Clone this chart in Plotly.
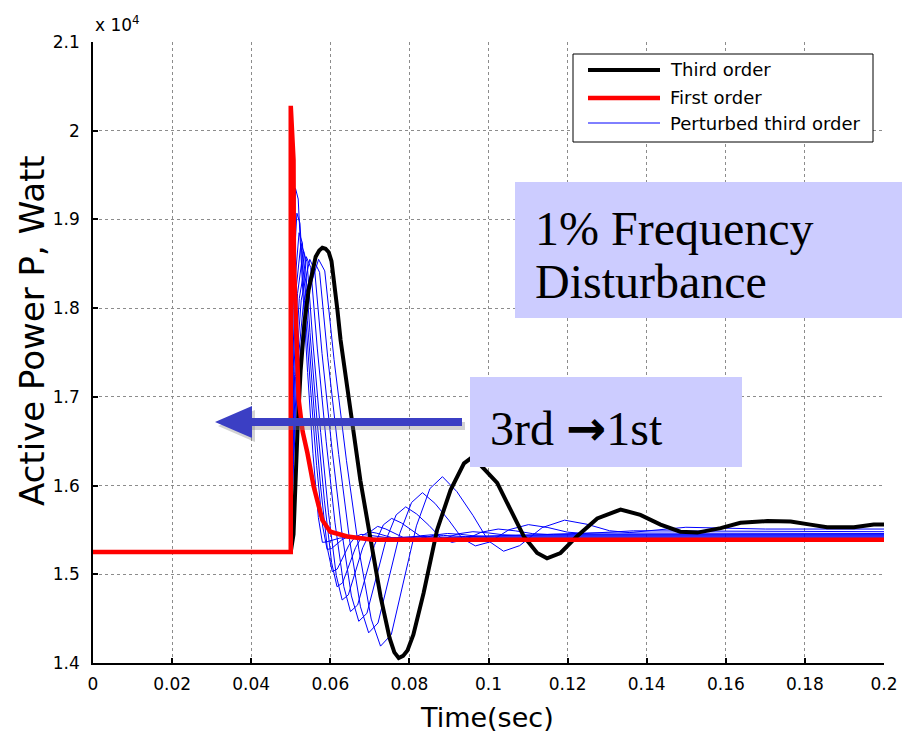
import plotly.graph_objects as go

# Step response of active power after a 1 % frequency disturbance.
# Time in seconds, power in units of 10^4 W (axis exponent shown separately).

third_t = [0, 0.05, 0.0507, 0.0512, 0.0517, 0.0525, 0.0535, 0.0545, 0.0555, 0.0563, 0.0572,
           0.0580, 0.0588, 0.0596, 0.0603, 0.0610, 0.0618, 0.0626, 0.0640, 0.0655, 0.0676,
           0.0702, 0.0727, 0.0750, 0.0762, 0.0773, 0.0784, 0.0795, 0.0810,
           0.0836, 0.0870, 0.0904, 0.0938, 0.0962, 0.0984, 0.1022, 0.1056, 0.1089, 0.1123,
           0.1148, 0.1182, 0.1224, 0.1275, 0.1334, 0.1384, 0.1435, 0.1485, 0.1528, 0.1587,
           0.1637, 0.1705, 0.1764, 0.1814, 0.1856, 0.1924, 0.1974, 0.2]
third_p = [1.525, 1.525, 1.545, 1.618, 1.661, 1.730, 1.785, 1.820, 1.843, 1.858, 1.865,
           1.868, 1.867, 1.863, 1.853, 1.829, 1.798, 1.764, 1.718, 1.674, 1.606,
           1.539, 1.475, 1.428, 1.412, 1.4056, 1.408, 1.414, 1.432,
           1.479, 1.550, 1.595, 1.625, 1.633, 1.621, 1.603, 1.573, 1.543, 1.524,
           1.518, 1.524, 1.543, 1.563, 1.573, 1.567, 1.556, 1.548, 1.547, 1.552,
           1.558, 1.560, 1.5595, 1.556, 1.553, 1.553, 1.556, 1.556]

first_t = [0, 0.05, 0.05, 0.0504, 0.0507, 0.0508, 0.0512, 0.0520, 0.0530, 0.0542, 0.0558,
           0.0580, 0.0600, 0.0643, 0.0707, 0.2]
first_p = [1.525, 1.525, 2.028, 1.990, 1.967, 1.854, 1.809, 1.697, 1.661, 1.637, 1.599,
           1.561, 1.548, 1.5426, 1.539, 1.539]

# perturbed third-order responses, fastest (k0) to slowest (k8)
k0_t = [0, 0.05, 0.05012, 0.0503, 0.05066, 0.0512, 0.05188, 0.0529, 0.05426, 0.05562, 0.05698,
        0.058, 0.05896, 0.06, 0.0612, 0.0624, 0.06352, 0.0648, 0.06624, 0.0676, 0.06896, 0.08, 0.2]
k0_p = [1.525, 1.525, 1.648, 1.771, 1.8776, 1.935, 1.923, 1.8313, 1.7275, 1.6358, 1.5639,
        1.536, 1.5364, 1.5379, 1.5397, 1.5408, 1.5412, 1.541, 1.5406, 1.5402, 1.54, 1.54, 1.54]

k1_t = [0, 0.05, 0.05016, 0.05039, 0.05086, 0.05156, 0.05233, 0.05347, 0.055, 0.05653, 0.05805,
        0.0592, 0.0603, 0.0615, 0.06288, 0.06426, 0.06555, 0.06702, 0.06868, 0.07024, 0.0718,
        0.07346, 0.07576, 0.07806, 0.08036, 0.08266, 0.08468, 0.09048, 0.2]
k1_p = [1.525, 1.525, 1.6396, 1.7542, 1.8535, 1.907, 1.8956, 1.8085, 1.7099, 1.6228, 1.5545,
        1.528, 1.529, 1.5334, 1.5387, 1.542, 1.543, 1.5425, 1.5417, 1.5409, 1.5405,
        1.5406, 1.5411, 1.5413, 1.5412, 1.541, 1.541, 1.541, 1.541]

k2_t = [0, 0.05, 0.05021, 0.05053, 0.05116, 0.0521, 0.05294, 0.0542, 0.05588, 0.05756, 0.05924,
        0.0605, 0.06176, 0.06313, 0.0647, 0.06628, 0.06775, 0.06943, 0.07132, 0.0731, 0.07489,
        0.07678, 0.0794, 0.08203, 0.08465, 0.08728, 0.08959, 0.0962, 0.2]
k2_p = [1.525, 1.525, 1.633, 1.741, 1.8346, 1.885, 1.8735, 1.7857, 1.6864, 1.5985, 1.5297,
        1.503, 1.5059, 1.5181, 1.5328, 1.5421, 1.545, 1.5442, 1.5429, 1.5416, 1.541,
        1.5413, 1.5424, 1.5428, 1.5425, 1.542, 1.5418, 1.542, 1.542]

k3_t = [0, 0.05, 0.05026, 0.05064, 0.05142, 0.05257, 0.05349, 0.05486, 0.05668, 0.05851, 0.06033,
        0.0617, 0.0631, 0.06463, 0.06638, 0.06814, 0.06977, 0.07165, 0.07375, 0.07574, 0.07773,
        0.07984, 0.08276, 0.08569, 0.08861, 0.09154, 0.09411, 0.10148, 0.2]
k3_p = [1.525, 1.525, 1.6294, 1.7338, 1.8243, 1.873, 1.8614, 1.7724, 1.6718, 1.5828, 1.5131,
        1.486, 1.4903, 1.5083, 1.53, 1.5437, 1.548, 1.5464, 1.5438, 1.5411, 1.54,
        1.5408, 1.5434, 1.5445, 1.5438, 1.5428, 1.5425, 1.543, 1.543]

k4_t = [0, 0.05, 0.05031, 0.05078, 0.05172, 0.05312, 0.05411, 0.05559, 0.05757, 0.05954, 0.06152,
        0.063, 0.06456, 0.06625, 0.0682, 0.07015, 0.07197, 0.07405, 0.07639, 0.0786, 0.08081,
        0.08315, 0.0864, 0.08965, 0.0929, 0.09615, 0.09901, 0.1072, 0.2]
k4_p = [1.525, 1.525, 1.6267, 1.7284, 1.8165, 1.864, 1.8522, 1.7618, 1.6596, 1.5693, 1.4985,
        1.471, 1.4768, 1.5009, 1.5299, 1.5482, 1.554, 1.551, 1.5462, 1.5411, 1.539,
        1.5403, 1.5443, 1.546, 1.545, 1.5434, 1.543, 1.544, 1.544]

k5_t = [0, 0.05, 0.05039, 0.05098, 0.05216, 0.05393, 0.05504, 0.05672, 0.05895, 0.06119, 0.06342,
        0.0651, 0.06691, 0.06888, 0.07114, 0.07341, 0.07552, 0.07794, 0.08065, 0.08322, 0.08579,
        0.08851, 0.09228, 0.09606, 0.09983, 0.10361, 0.10693, 0.11644, 0.2]
k5_p = [1.525, 1.525, 1.625, 1.725, 1.811, 1.858, 1.846, 1.754, 1.65, 1.558, 1.486,
        1.458, 1.4654, 1.4958, 1.5326, 1.5557, 1.563, 1.558, 1.55, 1.5415, 1.538,
        1.5398, 1.5456, 1.548, 1.5467, 1.5446, 1.544, 1.545, 1.545]

k6_t = [0, 0.05, 0.05048, 0.0512, 0.05265, 0.05482, 0.05605, 0.05791, 0.06039, 0.06287, 0.06534,
        0.0672, 0.06926, 0.0715, 0.07408, 0.07666, 0.07907, 0.08182, 0.08492, 0.08784, 0.09076,
        0.09386, 0.09816, 0.10246, 0.10676, 0.11106, 0.11484, 0.12568, 0.2]
k6_p = [1.525, 1.525, 1.624, 1.723, 1.809, 1.855, 1.8428, 1.7489, 1.6428, 1.549, 1.4756,
        1.447, 1.456, 1.4934, 1.5386, 1.567, 1.576, 1.568, 1.5552, 1.5416, 1.536,
        1.5387, 1.5474, 1.551, 1.549, 1.5459, 1.545, 1.5465, 1.546]

k7_t = [0, 0.05, 0.05059, 0.05148, 0.05325, 0.05591, 0.05729, 0.05936, 0.06212, 0.06487, 0.06763,
        0.0697, 0.07206, 0.07463, 0.07758, 0.08054, 0.08329, 0.08645, 0.08999, 0.09334, 0.09669,
        0.10024, 0.10516, 0.11009, 0.11501, 0.11994, 0.12427, 0.13668, 0.2]
k7_p = [1.525, 1.525, 1.623, 1.722, 1.807, 1.853, 1.8404, 1.744, 1.6351, 1.5388, 1.4633,
        1.434, 1.4451, 1.4909, 1.5462, 1.5809, 1.592, 1.58, 1.5608, 1.5404, 1.532,
        1.5363, 1.5502, 1.556, 1.5527, 1.5475, 1.546, 1.549, 1.548]

k8_t = [0, 0.05, 0.0507, 0.05176, 0.05387, 0.05704, 0.0586, 0.06095, 0.06409, 0.06722, 0.07035,
        0.0727, 0.07542, 0.07838, 0.08178, 0.08519, 0.08836, 0.092, 0.09608, 0.09994, 0.1038,
        0.10789, 0.11356, 0.11924, 0.12491, 0.13059, 0.13558, 0.1499, 0.17, 0.2]
k8_p = [1.525, 1.525, 1.624, 1.723, 1.809, 1.855, 1.842, 1.742, 1.628, 1.528, 1.4495,
        1.419, 1.432, 1.4878, 1.5546, 1.5966, 1.61, 1.5932, 1.5663, 1.5378, 1.526,
        1.5323, 1.5526, 1.561, 1.5564, 1.5491, 1.547, 1.553, 1.551, 1.551]

x_ticks = [0, 0.02, 0.04, 0.06, 0.08, 0.1, 0.12, 0.14, 0.16, 0.18, 0.2]
x_tick_text = ["0", "0.02", "0.04", "0.06", "0.08", "0.1", "0.12", "0.14", "0.16", "0.18", "0.2"]
y_ticks = [1.4, 1.5, 1.6, 1.7, 1.8, 1.9, 2.0, 2.1]
y_tick_text = ["1.4", "1.5", "1.6", "1.7", "1.8", "1.9", "2", "2.1"]

legend_labels = ["Third order", "First order", "Perturbed third order"]

SANS = "DejaVu Sans"
SERIF = "Liberation Serif"
BLUE = "#0000ff"
ARROW = "#3b3fc4"
PANEL = "#ccccff"

fig = go.Figure()

perturbed = [(k0_t, k0_p), (k1_t, k1_p), (k2_t, k2_p), (k3_t, k3_p), (k4_t, k4_p),
             (k5_t, k5_p), (k6_t, k6_p), (k7_t, k7_p), (k8_t, k8_p)]
for t, p in perturbed:
    fig.add_trace(go.Scatter(x=t, y=p, mode="lines", line=dict(color=BLUE, width=1),
                             showlegend=False, hoverinfo="skip"))

fig.add_trace(go.Scatter(x=third_t, y=third_p, mode="lines",
                         line=dict(color="black", width=4), showlegend=False))
fig.add_trace(go.Scatter(x=first_t, y=first_p, mode="lines",
                         line=dict(color="#ff0000", width=4.5), showlegend=False))

# plot area: 93..884 px horizontally, 42..663 px vertically
L, R, T, B = 93, 25, 42, 71
W, H = 909 - L - R, 734 - T - B


def px(x):
    return (x - L) / W


def py(y):
    return (734 - B - y) / H


shapes = []

# hand-drawn legend
shapes.append(dict(type="rect", xref="paper", yref="paper",
                   x0=px(573), x1=px(873), y0=py(142), y1=py(54),
                   fillcolor="white", line=dict(color="black", width=1), layer="above"))
legend_rows = [70, 98, 123]
legend_styles = [("black", 4), ("#ff0000", 4.5), (BLUE, 1)]
for yrow, (col, w) in zip(legend_rows, legend_styles):
    shapes.append(dict(type="line", xref="paper", yref="paper",
                       x0=px(588), x1=px(660), y0=py(yrow), y1=py(yrow),
                       line=dict(color=col, width=w), layer="above"))

# lavender text panels
shapes.append(dict(type="rect", xref="paper", yref="paper",
                   x0=px(515), x1=px(902), y0=py(318), y1=py(182),
                   fillcolor=PANEL, line=dict(width=0), layer="above"))
shapes.append(dict(type="rect", xref="paper", yref="paper",
                   x0=px(470), x1=px(742), y0=py(467), y1=py(377),
                   fillcolor=PANEL, line=dict(width=0), layer="above"))

# left-pointing arrow with a soft shadow
ay = 422
for dx, dy, col, op in [(3, 4, "#808080", 0.35), (0, 0, ARROW, 1.0)]:
    shapes.append(dict(type="line", xref="paper", yref="paper",
                       x0=px(245 + dx), x1=px(462 + dx), y0=py(ay + dy), y1=py(ay + dy),
                       line=dict(color=col, width=8), opacity=op, layer="above"))
    tip, base, half = 215 + dx, 252 + dx, 16
    path = (f"M {px(tip)},{py(ay + dy)} L {px(base)},{py(ay + dy - half)} "
            f"L {px(base)},{py(ay + dy + half)} Z")
    shapes.append(dict(type="path", xref="paper", yref="paper", path=path,
                       fillcolor=col, line=dict(width=0), opacity=op, layer="above"))

annotations = []
for yrow, label in zip(legend_rows, legend_labels):
    annotations.append(dict(xref="paper", yref="paper", x=px(668), y=py(yrow),
                            xanchor="left", yanchor="middle", text=label, showarrow=False,
                            font=dict(family=SANS, size=18, color="black")))

annotations += [
    dict(xref="paper", yref="paper", x=px(533), y=py(228), xanchor="left", yanchor="middle",
         text="1% Frequency", showarrow=False, font=dict(family=SERIF, size=48, color="black")),
    dict(xref="paper", yref="paper", x=px(533), y=py(281), xanchor="left", yanchor="middle",
         text="Disturbance", showarrow=False, font=dict(family=SERIF, size=48, color="black")),
    dict(xref="paper", yref="paper", x=px(488), y=py(428), xanchor="left", yanchor="middle",
         text="3rd <span style='font-family:DejaVu Sans;font-weight:bold'>→</span>1st",
         showarrow=False, font=dict(family=SERIF, size=48, color="black")),
    dict(xref="paper", yref="paper", x=0, y=py(24), xanchor="left", yanchor="middle",
         text="x 10<sup>4</sup>", showarrow=False, font=dict(family=SANS, size=17, color="black")),
    dict(xref="paper", yref="paper", x=px(487), y=py(717), xanchor="center", yanchor="middle",
         text="Time(sec)", showarrow=False, font=dict(family=SANS, size=27, color="black")),
    dict(xref="paper", yref="paper", x=px(32), y=py(331), xanchor="center", yanchor="middle",
         text="Active Power P, Watt", textangle=-90, showarrow=False,
         font=dict(family=SANS, size=34, color="black")),
]

axis_common = dict(showgrid=True, gridcolor="#8c8c8c", griddash="dot", gridwidth=1,
                   ticks="inside", ticklen=5, tickcolor="black", tickwidth=1.5,
                   showline=True, linecolor="black", linewidth=1.5, zeroline=False,
                   tickfont=dict(family=SANS, size=17, color="black"))

fig.update_layout(
    width=909, height=734,
    margin=dict(l=L, r=R, t=T, b=B),
    paper_bgcolor="white", plot_bgcolor="white",
    showlegend=False,
    xaxis=dict(range=[0, 0.2], tickvals=x_ticks, ticktext=x_tick_text,
               ticklabelstandoff=5, **axis_common),
    yaxis=dict(range=[1.4, 2.1], tickvals=y_ticks, ticktext=y_tick_text,
               ticklabelstandoff=8, **axis_common),
    shapes=shapes,
    annotations=annotations,
)

fig.write_html("out.html")
